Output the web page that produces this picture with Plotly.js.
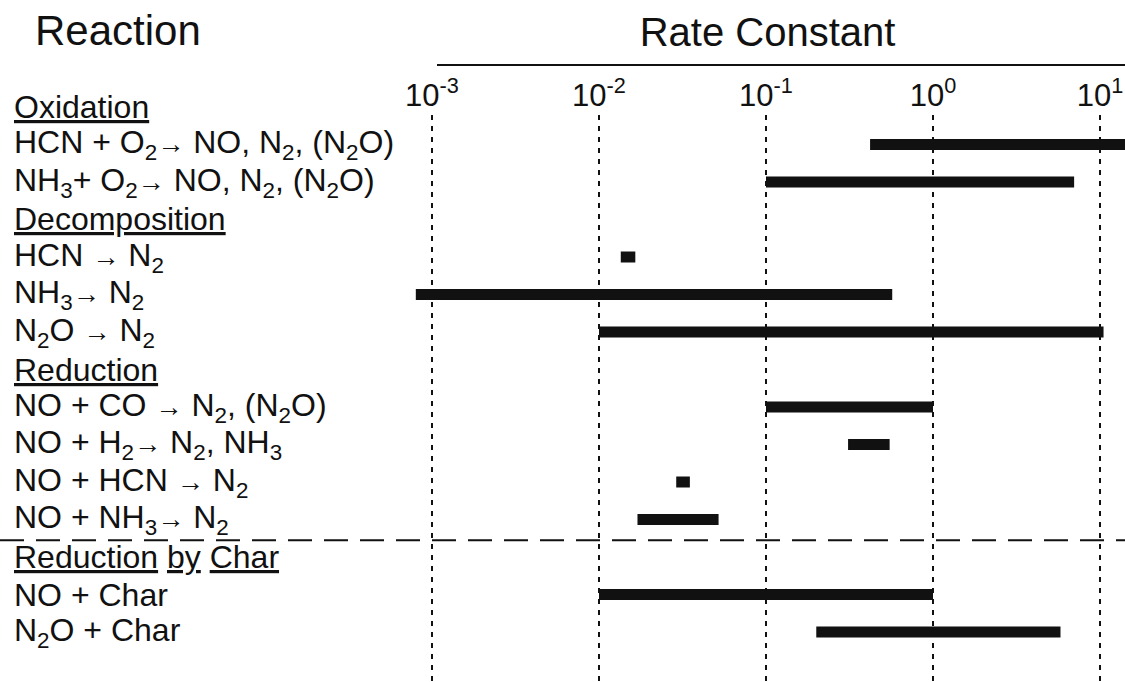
<!DOCTYPE html>
<html>
<head>
<meta charset="utf-8">
<script src="https://cdn.plot.ly/plotly-3.0.1.min.js"></script>
<style>html,body{margin:0;padding:0;background:#fff;}#chart{width:1125px;height:682px;}</style>
</head>
<body>
<div id="chart"></div>
<script>
var AR = '<span style="font-size:85%">→</span>';
var reactionLabels = [
  '<u>Oxidation</u>',
  'HCN + O<sub>2</sub>' + AR + ' NO, N<sub>2</sub>, (N<sub>2</sub>O)',
  'NH<sub>3</sub>+ O<sub>2</sub>' + AR + ' NO, N<sub>2</sub>, (N<sub>2</sub>O)',
  '<u>Decomposition</u>',
  'HCN ' + AR + ' N<sub>2</sub>',
  'NH<sub>3</sub>' + AR + ' N<sub>2</sub>',
  'N<sub>2</sub>O ' + AR + ' N<sub>2</sub>',
  '<u>Reduction</u>',
  'NO + CO ' + AR + ' N<sub>2</sub>, (N<sub>2</sub>O)',
  'NO + H<sub>2</sub>' + AR + ' N<sub>2</sub>, NH<sub>3</sub>',
  'NO + HCN ' + AR + ' N<sub>2</sub>',
  'NO + NH<sub>3</sub>' + AR + ' N<sub>2</sub>',
  '<u>Reduction</u> <u>by</u> <u>Char</u>',
  'NO + Char',
  'N<sub>2</sub>O + Char'
];
var rateLow  = [null, 0.42, 0.1, null, 0.0135, 0.0008, 0.01, null, 0.1, 0.31, 0.029, 0.017, null, 0.01, 0.2];
var rateHigh = [null, 15,   7.0, null, 0.0165, 0.57,   10.5, null, 1.0, 0.55, 0.035, 0.052, null, 1.0,  5.8];
var tickValues = [0.001, 0.01, 0.1, 1, 10];
var tickLabels = ['10<sup>-3</sup>', '10<sup>-2</sup>', '10<sup>-1</sup>', '10<sup>0</sup>', '10<sup>1</sup>'];
var separatorAfterRow = 11;

var FONT = 'Liberation Sans, Arial, Helvetica, sans-serif';
var traces = [];
for (var i = 0; i < reactionLabels.length; i++) {
  if (rateLow[i] === null) continue;
  traces.push({
    type: 'scatter', mode: 'lines',
    x: [rateLow[i], rateHigh[i]], y: [i, i],
    line: {color: '#111', width: 11},
    name: reactionLabels[i].replace(/<[^>]+>/g, ''),
    hoverinfo: 'x+name', showlegend: false
  });
}

var L = 410, W = 1125, H = 682, T = 115;
var ROW0 = 107, ROWH = 37.5;
var pw = W - L, ph = H - T;
function rowToPaper(r) { return (H - (ROW0 + ROWH * r)) / ph; }
var annotations = reactionLabels.map(function (t, i) {
  return {
    text: t, xref: 'paper', yref: 'paper', x: (12 - L) / pw, y: rowToPaper(i),
    xanchor: 'left', yanchor: 'middle', align: 'left', showarrow: false,
    font: {family: FONT, size: 32, color: '#111'}
  };
});
annotations.push({
  text: 'Reaction', xref: 'paper', yref: 'paper',
  x: (118 - L) / pw, y: (H - 30) / ph, xanchor: 'center', yanchor: 'middle',
  showarrow: false, font: {family: FONT, size: 42, color: '#111'}
});

var layout = {
  width: W, height: H,
  margin: {l: L, r: 0, t: T, b: 0, pad: 0},
  paper_bgcolor: '#fff', plot_bgcolor: '#fff',
  font: {family: FONT, color: '#111'},
  showlegend: false,
  xaxis: {
    type: 'log', side: 'top',
    range: [-3 - 22 / 167, 1 + 25 / 167],
    tickvals: tickValues, ticktext: tickLabels,
    tickfont: {family: FONT, size: 31, color: '#111'},
    ticks: '', showline: false, zeroline: false,
    showgrid: true, gridcolor: '#111', gridwidth: 2, griddash: '5px,6px',
    ticklabelstandoff: 2,
    title: {text: 'Rate Constant', font: {family: FONT, size: 40, color: '#111'}, standoff: 13},
    fixedrange: true
  },
  yaxis: {
    range: [(H - ROW0) / ROWH, (T - ROW0) / ROWH],
    visible: false, showgrid: false, zeroline: false, fixedrange: true
  },
  annotations: annotations,
  shapes: [
    {type: 'line', xref: 'paper', yref: 'paper',
     x0: (437 - L) / pw, x1: 1, y0: (H - 65) / ph, y1: (H - 65) / ph,
     line: {color: '#111', width: 2}},
    {type: 'line', xref: 'paper', yref: 'y',
     x0: -L / pw, x1: 1, y0: separatorAfterRow + 0.55, y1: separatorAfterRow + 0.55,
     line: {color: '#111', width: 2, dash: '24px,12px'}}
  ]
};

Plotly.newPlot('chart', traces, layout, {displayModeBar: false, staticPlot: true});
</script>
</body>
</html>
